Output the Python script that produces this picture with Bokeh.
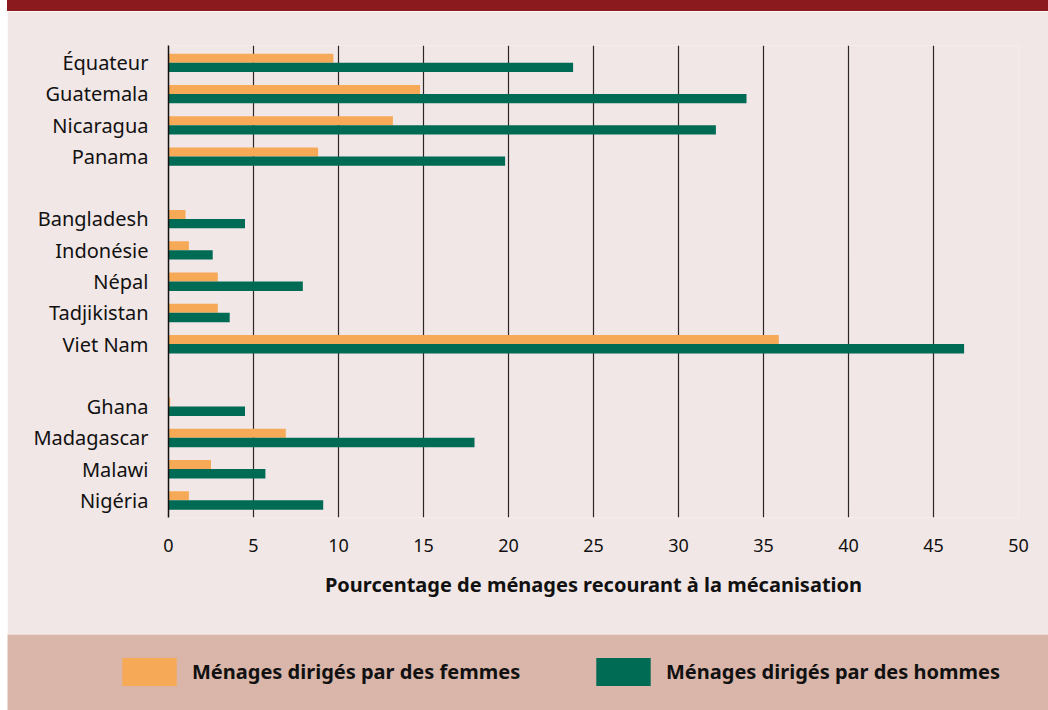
from bokeh.plotting import figure
from bokeh.models import (Range1d, FixedTicker, Div, Legend, LegendItem, ColumnDataSource, Spacer)
from bokeh.layouts import column, row
from bokeh.embed import file_html
from bokeh.resources import INLINE

# ---- data ----
groups = [
    ["Équateur", "Guatemala", "Nicaragua", "Panama"],
    ["Bangladesh", "Indonésie", "Népal", "Tadjikistan", "Viet Nam"],
    ["Ghana", "Madagascar", "Malawi", "Nigéria"],
]
women = [9.7, 14.8, 13.2, 8.8, 1.0, 1.2, 2.9, 2.9, 35.9, 0.1, 6.9, 2.5, 1.2]
men = [23.8, 34.0, 32.2, 19.8, 4.5, 2.6, 7.9, 3.6, 46.8, 4.5, 18.0, 5.7, 9.1]
x_ticks = [0, 5, 10, 15, 20, 25, 30, 35, 40, 45, 50]
label_women = "Ménages dirigés par des femmes"
label_men = "Ménages dirigés par des hommes"
x_title = "Pourcentage de ménages recourant à la mécanisation"

# ---- colours / fonts ----
C_WOMEN = "#F6AA58"
C_MEN = "#006B54"
C_HEADER = "#8B1A1E"
C_PANEL = "#F1E7E6"
C_BAND = "#D9B6A9"
C_TEXT = "#111111"
FONT = "Noto Sans"

# slot positions: one blank slot between groups
countries, slots = [], []
pos = 0
for gi, g in enumerate(groups):
    if gi > 0:
        pos += 1
    for c in g:
        countries.append(c)
        slots.append(pos)
        pos += 1
n_slots = pos

src = ColumnDataSource(dict(
    country=countries,
    women=women,
    men=men,
    y_w=[s - 0.145 for s in slots],
    y_m=[s + 0.15 for s in slots],
))

W = 1041
LEFT, RIGHT = 161, 30
header = Div(width=W, height=11, margin=0, styles={"background-color": C_HEADER})

p = figure(width=W, height=623, output_backend="svg", toolbar_location=None,
           x_range=Range1d(0, 50), y_range=Range1d(n_slots - 1 + 0.55, -0.55),
           min_border_left=LEFT, min_border_right=RIGHT, min_border_top=34, min_border_bottom=117,
           background_fill_color=C_PANEL, border_fill_color=C_PANEL, outline_line_color=None)

p.hbar(y="y_w", right="women", left=0, height=0.29, source=src,
       fill_color=C_WOMEN, line_color=None)
p.hbar(y="y_m", right="men", left=0, height=0.30, source=src,
       fill_color=C_MEN, line_color=None)

p.xaxis.ticker = FixedTicker(ticks=x_ticks)
p.xaxis.axis_line_color = None
p.xaxis.major_tick_line_color = None
p.xaxis.minor_tick_line_color = None
p.xaxis.major_tick_out = 0
p.xaxis.major_label_standoff = 21
p.xaxis.major_label_text_font = FONT
p.xaxis.major_label_text_font_size = "18px"
p.xaxis.major_label_text_color = C_TEXT
p.xaxis.axis_label = x_title
p.xaxis.axis_label_standoff = 16
p.xaxis.axis_label_text_font = FONT
p.xaxis.axis_label_text_font_style = "bold"
p.xaxis.axis_label_text_font_size = "20px"
p.xaxis.axis_label_text_color = C_TEXT

p.yaxis.ticker = FixedTicker(ticks=slots)
p.yaxis.major_label_overrides = {s: c for s, c in zip(slots, countries)}
p.yaxis.axis_line_color = C_TEXT
p.yaxis.axis_line_width = 1.5
p.yaxis.major_tick_line_color = None
p.yaxis.minor_tick_line_color = None
p.yaxis.major_tick_out = 0
p.yaxis.major_label_standoff = 20
p.yaxis.major_label_text_font = FONT
p.yaxis.major_label_text_font_size = "20px"
p.yaxis.major_label_text_color = C_TEXT

p.xgrid.grid_line_color = "#2b2727"
p.xgrid.grid_line_width = 1.2
p.ygrid.grid_line_color = None

# ---- legend band (legend swatches come from the same bar data, kept out of view) ----
lg = figure(width=W, height=76, output_backend="svg", toolbar_location=None,
            x_axis_type=None, y_axis_type=None,
            x_range=Range1d(100, 101), y_range=Range1d(100, 101),
            min_border_left=0, min_border_right=0, min_border_top=0, min_border_bottom=0,
            background_fill_color=C_BAND, border_fill_color=C_BAND, outline_line_color=None)
lg.grid.visible = False
rw = lg.hbar(y="y_w", right="women", left=0, height=0.29, source=src,
             fill_color=C_WOMEN, line_color=None)
rm = lg.hbar(y="y_m", right="men", left=0, height=0.30, source=src,
             fill_color=C_MEN, line_color=None)

for r, lab, xpos in [(rw, label_women, 108), (rm, label_men, 582)]:
    leg = Legend(items=[LegendItem(label=lab, renderers=[r])], location=(xpos, 21),
                 orientation="horizontal", glyph_width=68, glyph_height=35,
                 label_standoff=9, padding=0, margin=0, spacing=0,
                 background_fill_alpha=0, border_line_color=None,
                 label_text_font=FONT, label_text_font_style="bold",
                 label_text_font_size="20px", label_text_color=C_TEXT,
                 label_height=35)
    lg.add_layout(leg)

page = row(Spacer(width=7, height=710), column(header, p, row(lg), spacing=0), spacing=0)

open("out.html", "w").write(file_html(page, INLINE))
